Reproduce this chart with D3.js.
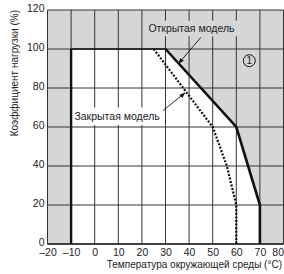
<!DOCTYPE html>
<html>
<head>
<meta charset="utf-8">
<script src="https://cdn.jsdelivr.net/npm/d3@7"></script>
<style>
  body { margin: 0; background: #fff; }
  text { font-family: "Liberation Sans", Arial, sans-serif; fill: #222; }
</style>
</head>
<body>
<div id="chart"></div>
<script>
// Data
var xTicks = [-20, -10, 0, 10, 20, 30, 40, 50, 60, 70, 80];
var yTicks = [0, 20, 40, 60, 80, 100, 120];

// open model derating curve (temp, load %)
var openTemp = [30, 60, 70, 70];
var openLoad = [100, 60, 20, 0];

// closed model derating curve
var closedTemp = [25, 50, 56, 60, 60];
var closedLoad = [100, 60, 40, 20, 0];

// lower limit of operating temperature
var minTemp = -10;
var maxLoad = 100;

var openLabel = "Открытая модель";
var closedLabel = "Закрытая модель";
var xTitle = "Температура окружающей среды (°C)";
var yTitle = "Коэффициент нагрузки (%)";

var svgWidth = 284;
var svgHeight = 274;
var margin = { top: 10, right: 0.5, bottom: 30, left: 47.5 };
var chartWidth = svgWidth - margin.left - margin.right;
var chartHeight = svgHeight - margin.top - margin.bottom;

var svg = d3.select("#chart").append("svg")
    .attr("width", svgWidth)
    .attr("height", svgHeight);

var defs = svg.append("defs");
defs.append("marker")
    .attr("id", "arrow")
    .attr("viewBox", "0 0 10 10")
    .attr("refX", 9).attr("refY", 5)
    .attr("markerWidth", 7).attr("markerHeight", 7)
    .attr("orient", "auto")
    .append("path")
    .attr("d", "M0,1.5 L10,5 L0,8.5 Z")
    .attr("fill", "#111");

var g = svg.append("g")
    .attr("transform", `translate(${margin.left}, ${margin.top})`);

var x = d3.scaleLinear().domain([-20, 80]).range([0, chartWidth]);
var y = d3.scaleLinear().domain([0, 120]).range([chartHeight, 0]);

// gray background for the whole plot
g.append("rect")
    .attr("width", chartWidth)
    .attr("height", chartHeight)
    .attr("fill", "#d5d6d8");

// white operating area
var area = [[minTemp, 0], [minTemp, maxLoad]];
openTemp.forEach(function(t, i) { area.push([t, openLoad[i]]); });
g.append("path")
    .attr("d", d3.line().x(d => x(d[0])).y(d => y(d[1]))(area) + "Z")
    .attr("fill", "#fff");

// grid
g.selectAll(".vgrid")
    .data(xTicks)
    .enter()
    .append("line")
    .attr("x1", d => x(d)).attr("x2", d => x(d))
    .attr("y1", 0).attr("y2", chartHeight)
    .attr("stroke", "#333")
    .attr("stroke-width", 1);

g.selectAll(".hgrid")
    .data(yTicks)
    .enter()
    .append("line")
    .attr("x1", 0).attr("x2", chartWidth)
    .attr("y1", d => y(d)).attr("y2", d => y(d))
    .attr("stroke", "#333")
    .attr("stroke-width", 1);

// bottom baseline a bit heavier
g.append("line")
    .attr("x1", 0).attr("x2", chartWidth)
    .attr("y1", y(0)).attr("y2", y(0))
    .attr("stroke", "#222").attr("stroke-width", 1.6);

// limit lines
g.append("line")
    .attr("x1", x(minTemp)).attr("x2", x(minTemp))
    .attr("y1", y(0)).attr("y2", y(maxLoad))
    .attr("stroke", "#111").attr("stroke-width", 2.4);
g.append("line")
    .attr("x1", x(minTemp)).attr("x2", x(openTemp[0]))
    .attr("y1", y(maxLoad)).attr("y2", y(maxLoad))
    .attr("stroke", "#111").attr("stroke-width", 1.6);

// label boxes (hide grid behind text)
g.append("rect")
    .attr("x", x(21.5)).attr("y", y(114.5))
    .attr("width", x(60.5) - x(21.5)).attr("height", y(106.5) - y(114.5))
    .attr("fill", "#d5d6d8");
g.append("rect")
    .attr("x", x(-9)).attr("y", y(70))
    .attr("width", x(28) - x(-9)).attr("height", y(61) - y(70))
    .attr("fill", "#fff");

// open model line
var line = d3.line().x(d => x(d[0])).y(d => y(d[1]));
g.append("path")
    .attr("d", line(openTemp.map((t, i) => [t, openLoad[i]])))
    .attr("fill", "none")
    .attr("stroke", "#111")
    .attr("stroke-width", 2.6);

// closed model line
g.append("path")
    .attr("d", line(closedTemp.map((t, i) => [t, closedLoad[i]])))
    .attr("fill", "none")
    .attr("stroke", "#111")
    .attr("stroke-width", 2.2)
    .attr("stroke-dasharray", "2,1.6");

// annotations
g.append("text")
    .attr("x", x(41)).attr("y", y(110.5))
    .attr("dy", "0.35em")
    .attr("text-anchor", "middle")
    .attr("font-size", "10.5px")
    .text(openLabel);
g.append("line")
    .attr("x1", x(45)).attr("y1", y(106))
    .attr("x2", x(35.5)).attr("y2", y(92.5))
    .attr("stroke", "#111").attr("stroke-width", 0.9)
    .attr("marker-end", "url(#arrow)");

g.append("text")
    .attr("x", x(9.5)).attr("y", y(65.5))
    .attr("dy", "0.35em")
    .attr("text-anchor", "middle")
    .attr("font-size", "10.5px")
    .text(closedLabel);
g.append("line")
    .attr("x1", x(29)).attr("y1", y(68.5))
    .attr("x2", x(38.3)).attr("y2", y(77.5))
    .attr("stroke", "#111").attr("stroke-width", 0.9)
    .attr("marker-end", "url(#arrow)");

// circled number
g.append("circle")
    .attr("cx", x(65.5)).attr("cy", y(94))
    .attr("r", 6)
    .attr("fill", "none")
    .attr("stroke", "#111")
    .attr("stroke-width", 1);
g.append("text")
    .attr("x", x(65.5)).attr("y", y(94))
    .attr("dy", "0.35em")
    .attr("text-anchor", "middle")
    .attr("font-size", "10px")
    .text("1");

// axes (labels only)
var bottomAxis = d3.axisBottom(x)
    .tickValues(xTicks)
    .tickSize(0)
    .tickPadding(5)
    .tickFormat(d => d < 0 ? "\u2013" + Math.abs(d) : d);
var xAxis = g.append("g")
    .attr("transform", `translate(0, ${chartHeight})`)
    .call(bottomAxis);
xAxis.select(".domain").remove();
xAxis.selectAll("text")
    .attr("font-size", "10.5px")
    .attr("font-family", "Liberation Sans, Arial, sans-serif")
    .attr("fill", "#222");
// last label would run past the edge, keep it inside
xAxis.selectAll("text")
    .filter(d => d === 80)
    .attr("text-anchor", "end")
    .attr("x", 0);

var leftAxis = d3.axisLeft(y)
    .tickValues(yTicks)
    .tickSize(0)
    .tickPadding(3);
var yAxis = g.append("g").call(leftAxis);
yAxis.select(".domain").remove();
yAxis.selectAll("text")
    .attr("font-size", "10.5px")
    .attr("dy", "0.1em")
    .attr("font-family", "Liberation Sans, Arial, sans-serif")
    .attr("fill", "#222");

// axis titles
svg.append("text")
    .attr("x", 282)
    .attr("y", 268)
    .attr("text-anchor", "end")
    .attr("font-size", "10px")
    .text(xTitle);

svg.append("text")
    .attr("transform", "rotate(-90)")
    .attr("x", -10)
    .attr("y", 18)
    .attr("text-anchor", "end")
    .attr("font-size", "10px")
    .text(yTitle);
</script>
</body>
</html>
